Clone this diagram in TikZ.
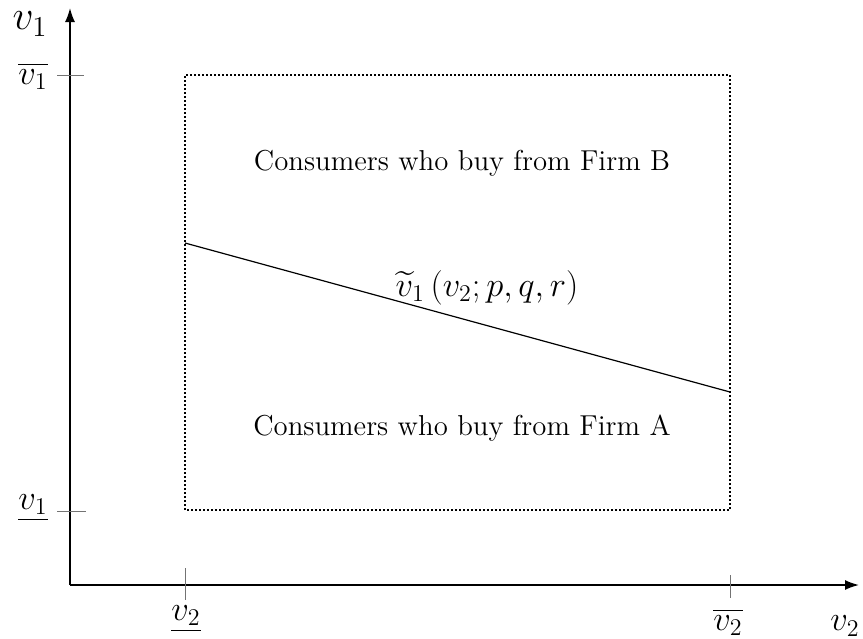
\documentclass[tikz,border=0pt]{standalone}
\usepackage{amsmath, amssymb}
\usetikzlibrary{arrows.meta, positioning}

\begin{document}
\begin{tikzpicture}[
  x=0.5pt, y=-0.5pt,
  axis/.style={line width=0.8pt, -{Latex[length=7pt, width=5pt]}},
  tick/.style={line width=0.35pt, black!55},
  region/.style={densely dotted, line width=1pt},
  lbl/.style={font=\LARGE, inner sep=0pt},
  zone/.style={font=\Large, inner sep=0pt}
]
\useasboundingbox (0,0) rectangle (863,638);

% axes
\coordinate (o)  at (70,585);
\coordinate (yend) at (70,8);
\coordinate (xend) at (859,585);
\draw[axis] (o) -- (yend);
\draw[axis] (o) -- (xend);

% box of consumer types
\coordinate (sw) at (185,510);
\coordinate (ne) at (730,75);
\draw[region] (sw) rectangle (ne);

% ticks
\coordinate (t1a) at (57,75);   \coordinate (t1b) at (84,75);
\coordinate (t2a) at (57,511);  \coordinate (t2b) at (86,511);
\coordinate (t3a) at (185,568); \coordinate (t3b) at (185,600);
\coordinate (t4a) at (730,575); \coordinate (t4b) at (730,598);
\draw[tick] (t1a) -- (t1b);
\draw[tick] (t2a) -- (t2b);
\draw[tick] (t3a) -- (t3b);
\draw[tick] (t4a) -- (t4b);

% indifference line
\coordinate (l1) at (185,243);
\coordinate (l2) at (730,392);
\draw[line width=0.6pt] (l1) -- (l2);

% labels
\node[lbl, font=\huge] (ylab) at (30,24) {$v_1$};
\node[lbl] (yhi)   at (33,76)   {$\overline{v_1}$};
\node[lbl] (ylo)   at (33,508)  {$\underline{v_1}$};
\node[lbl] (xlo)   at (186,619) {$\underline{v_2}$};
\node[lbl] (xhi)   at (728,622) {$\overline{v_2}$};
\node[lbl] (xlab)  at (845,626) {$v_2$};
\node[lbl] (curve) at (487,288) {$\widetilde{v}_1\left(v_2;p,q,r\right)$};

\node[zone] (firmB) at (462,163) {Consumers who buy from Firm B};
\node[zone] (firmA) at (462,428) {Consumers who buy from Firm A};
\end{tikzpicture}
\end{document}
